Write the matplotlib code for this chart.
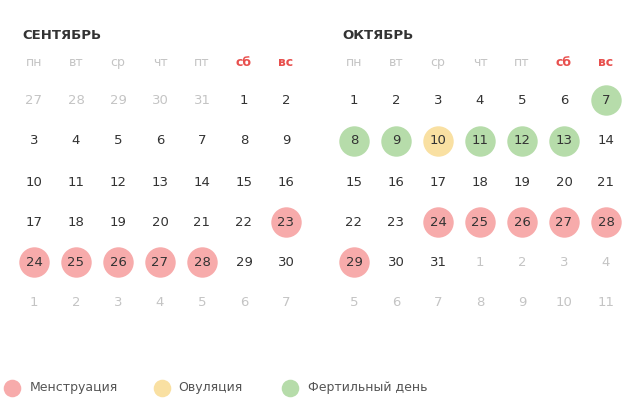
import matplotlib
matplotlib.use("Agg")
import matplotlib.pyplot as plt

weekdays = ["пн", "вт", "ср", "чт", "пт", "сб", "вс"]
month_titles = ["СЕНТЯБРЬ", "ОКТЯБРЬ"]
sep_days = [27, 28, 29, 30, 31] + list(range(1, 31)) + list(range(1, 8))
sep_lead, sep_len = 5, 30
oct_days = list(range(1, 32)) + list(range(1, 12))
oct_lead, oct_len = 0, 31
sep_menstr = [23, 24, 25, 26, 27, 28]
oct_menstr = [24, 25, 26, 27, 28, 29]
oct_fertile = [7, 8, 9, 11, 12, 13]
oct_ovul = [10]
legend_labels = ["Менструация", "Овуляция", "Фертильный день"]

PINK, YEL, GRN = "#f7abab", "#f9e0a2", "#b6dcaa"
RED, DARK, GRAY = "#e8504e", "#333333", "#c4c4c4"

fig = plt.figure(figsize=(6.4, 4.12), dpi=100)
ax = fig.add_axes([0, 0, 1, 1])
ax.set_xlim(0, 640); ax.set_ylim(412, 0); ax.axis("off")

rows_y = [100, 141, 182, 222, 262, 302]
S = 480
def draw(x0, title, days, lead, n, marks):
    ax.text(x0 - 12, 35, title, fontsize=9.5, fontweight="bold", color=DARK, va="center", family="DejaVu Sans")
    for j, w in enumerate(weekdays):
        ax.text(x0 + 42 * j, 62, w, fontsize=9, color=RED if j >= 5 else GRAY, ha="center", va="center",
                fontweight="bold" if j >= 5 else "normal")
    for i, d in enumerate(days):
        r, c = divmod(i, 7)
        x, y = x0 + 42 * c, rows_y[r]
        cur = lead <= i < lead + n
        col = None
        if cur:
            for days_list, cc in marks:
                if d in days_list:
                    col = cc
        if col:
            ax.scatter([x], [y], s=S, color=col, zorder=1, linewidths=0)
        ax.text(x, y, str(d), fontsize=9.5, color=DARK if cur else GRAY, ha="center", va="center", zorder=2)

draw(34, month_titles[0], sep_days, sep_lead, sep_len, [(sep_menstr, PINK)])
draw(354, month_titles[1], oct_days, oct_lead, oct_len, [(oct_menstr, PINK), (oct_fertile, GRN), (oct_ovul, YEL)])

for lx, tx, lab, col in [(12, 30, legend_labels[0], PINK), (162, 178, legend_labels[1], YEL), (290, 308, legend_labels[2], GRN)]:
    ax.scatter([lx], [388], s=160, color=col, linewidths=0)
    ax.text(tx, 388, lab, fontsize=9, color="#555555", va="center")

fig.savefig("out.png", dpi=100)
